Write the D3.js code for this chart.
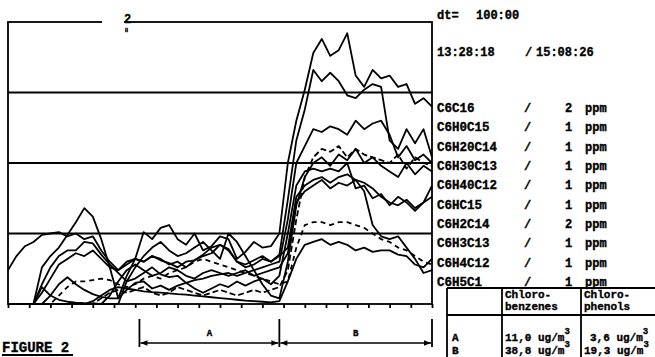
<!DOCTYPE html>
<html>
<head>
<meta charset="utf-8">
<script src="https://cdn.jsdelivr.net/npm/d3@7"></script>
<style>
  body { margin: 0; background: #fff; }
  svg { display: block; }
  text { font-family: 'Liberation Mono', 'DejaVu Sans Mono', monospace; font-weight: bold; fill: #000; stroke: #000; stroke-width: 0.35; }
</style>
</head>
<body>
<svg id="chart" width="655" height="357"></svg>
<script>
// time axis, minutes since 13:28:18
const minutes = [0,2,4,6,8,10,12,14,16,18,20,22,24,26,28,30,32,34,36,38,40,42,44,46,48,50,
  52,54,56,58,60,62,64,66,68,70,72,74,76,78,80,82,84,86,88,90,92,94,96,98,100]
const tickMinutes = [0,5,10,15,20,25,30,35,40,45,50,55,60,65,70,75,80,85,90,95,100]
const gridLevels = [25, 50, 75]

// traces, percent of full scale
const s1 = [0,0,0,0,13,17,20,24.5,29,34, 31,23,13,2,10,16,25.5,23,27,28, 23,21,25,19,20.5,24,23,16,18.5,22,
  20,20.5,25,50,65,76,89,94,88,90, 96,81,77,83,80,81,77,78,71,73, 70]
const s2 = [12,17,20.5,22,24.5,25,25.5,24,25,23, 24,19,15,12,15,16,15,17,15.5,14.5, 13,15,15.5,17.5,20,21,19.5,15,14,15.5,
  17,15,17.5,37,58,69,83,79,82,79, 74,73,76,78,77,58,55,62,57,62, 52]
const s3 = [0,0,0,0,7,13,17,19,19,22, 21.5,17.5,14,11,8,9,11,13,10.5,9.5, 10,7.5,8.5,9,10,10.5,11,10,11,12,
  13,14,15,30,50,56,62,61,63,62, 60,65,62,64,65,60,52,56,51,53, 50]
const s4 = [0,0,0,0,0,3,7,9.5,7,5, 3.5,2.5,2,2,5,7.5,8,5.5,6.5,5, 6.5,7.5,5.5,4,5.5,7,6,8,6.5,8,
  9,7,10,25,42,47,48,47,48,47, 50,41,42,37.5,39,35,38,36,33,36, 42]
const s5 = [0,0,0,0,4,9,14,16,18,17, 19,16,13,12,14,16,15,17,16,14, 15,13,15.5,17,18,21,19,15,13,14,
  16,15,17,20,38,42,44,45,43,45, 46,44,40,28,24,23,24,20,16,11, 12]
const s6 = [0,0,0,0,6,3,1.5,0.8,0.5,0.3, 0.2,0,0,0,8,13,17,20,22,19, 17,18,20,22,19,16,25,22,17,12,
  7,3,2,15,35,45,50,52,49,53, 51,55,50,52,49,47,45,50,46,49, 47]
const s7 = [0,0,0,0,0,0,3,6,8,8, 8.5,9,8.5,7,6,7,9,10,9,11, 12,13,15,16,15,14,13,12,11,10,
  9,8,7,8,20,28,29,29,28,29, 29,28,27,25,23,22,20,19,17,15, 14]
const s8 = [0,0,0,0,0,0,0,0,0,0, 1,3,5,6,5.5,5,4.5,4.2,4,3.8, 3.5,3.3,3,2.7,2.4,2.1,1.8,1.5,1.2,1,
  0.8,0.6,1,8,16,21,22,23,21,22, 21,19,20,18.5,19,19,17.5,17,14,13, 16]
const s9 = [0,0,0,0,0,0,0,0,0,0, 0,2,4,5,4,5,6,4,3,4, 6,5,4,3,4,5,4,3,4,5,
  4,5,6,12,30,45,52,55,54,56, 52,55,53,52,51,50,53,48,52,50, 49]
const s10 = [0,0,0,0,0,0,0,0,0,0, 0,0,3,8,12,14,12,10,11,13, 12,10,9,11,12,11,10,11,12,10,
  11,12,13,18,36,40,42,44,41,43, 42,44,43,41,38,36,35,37,34,36, 38]
const traces = [s1, s2, s3, s4, s5, s6, s7, s8, s9, s10]
const dashes = [null, null, null, null, null, null, '5,4', null, '6,3', null]

// legend
const compounds = ['C6C16', 'C6H0C15', 'C6H20C14', 'C6H30C13', 'C6H40C12', 'C6HC15', 'C6H2C14', 'C6H3C13', 'C6H4C12', 'C6H5C1']
const fullScale = [2, 1, 1, 1, 1, 1, 2, 1, 1, 1]

// phases
const phaseNames = ['A', 'B']
const phaseStart = [31, 64]
const phaseEnd = [64, 100]

// table
const tableCols = ['Chloro-|benzenes', 'Chloro-|phenols']
const tableRows = ['A', 'B']
const benzenes = ['11,0', '38,8']
const phenols = ['3,6', '19,3']

const svg = d3.select('#chart')
const plot = { left: 8, right: 432, top: 22, bottom: 304 }

const x = d3.scaleLinear().domain([0, 100]).range([plot.left, plot.right])
const y = d3.scaleLinear().domain([0, 100]).range([plot.bottom, plot.top])

// frame + grid
svg.append('rect')
  .attr('x', plot.left).attr('y', plot.top)
  .attr('width', plot.right - plot.left).attr('height', plot.bottom - plot.top)
  .attr('fill', 'none').attr('stroke', '#000').attr('stroke-width', 1.8)

svg.append('g')
  .selectAll('line')
  .data(gridLevels)
  .join('line')
    .attr('x1', plot.left).attr('x2', plot.right)
    .attr('y1', d => y(d)).attr('y2', d => y(d))
    .attr('stroke', '#000').attr('stroke-width', 1.8)

svg.append('g')
  .attr('transform', 'translate(0,' + plot.bottom + ')')
  .call(d3.axisBottom(x).tickValues(tickMinutes).tickSize(4).tickFormat(''))
  .call(g => g.select('.domain').remove())
  .call(g => g.selectAll('.tick line').attr('stroke-width', 1.8))

// marker on top border
svg.append('rect').attr('x', 102).attr('y', 19).attr('width', 22).attr('height', 5).attr('fill', '#fff')
svg.append('text').attr('x', 124).attr('y', 23).attr('font-size', 12).text('2')
svg.append('text').attr('x', 125).attr('y', 32).attr('font-size', 5).text('H')

// traces
const line = d3.line()
  .x((d, i) => x(minutes[i]))
  .y(d => y(d))

svg.append('g')
  .selectAll('path')
  .data(traces)
  .join('path')
    .attr('d', line)
    .attr('fill', 'none')
    .attr('stroke', '#000')
    .attr('stroke-width', 1.8)
    .attr('stroke-linejoin', 'round')
    .attr('stroke-dasharray', (d, i) => dashes[i])

// phase brackets
const br = { top: 319, arrow: 343, bottom: 347 }
svg.append('defs').append('marker')
  .attr('id', 'arr')
  .attr('viewBox', '0 0 10 10').attr('refX', 10).attr('refY', 5)
  .attr('markerWidth', 6).attr('markerHeight', 5).attr('orient', 'auto-start-reverse')
  .append('path').attr('d', 'M0,1 L10,5 L0,9 Z').attr('fill', '#000')

const phases = svg.append('g')
phases.selectAll('line.v')
  .data([phaseStart[0]].concat(phaseEnd))
  .join('line')
    .attr('class', 'v')
    .attr('x1', d => x(d)).attr('x2', d => x(d))
    .attr('y1', br.top).attr('y2', br.bottom)
    .attr('stroke', '#000').attr('stroke-width', 1.8)
phases.selectAll('line.h')
  .data(phaseNames)
  .join('line')
    .attr('class', 'h')
    .attr('x1', (d, i) => x(phaseStart[i]) + 1).attr('x2', (d, i) => x(phaseEnd[i]) - 1)
    .attr('y1', br.arrow).attr('y2', br.arrow)
    .attr('stroke', '#000').attr('stroke-width', 1.4)
    .attr('marker-start', 'url(#arr)').attr('marker-end', 'url(#arr)')
phases.selectAll('text')
  .data(phaseNames)
  .join('text')
    .attr('x', (d, i) => x((phaseStart[i] + phaseEnd[i]) / 2))
    .attr('y', 336)
    .attr('text-anchor', 'middle')
    .attr('font-size', 9)
    .text(d => d)

// figure caption
svg.append('text').attr('x', 2).attr('y', 352).attr('font-size', 14).text('FIGURE 2')
svg.append('line').attr('x1', 2).attr('x2', 73).attr('y1', 355).attr('y2', 355)
  .attr('stroke', '#000').attr('stroke-width', 1.8)

// header
const info = svg.append('g')
info.append('text').attr('x', 437).attr('y', 19).attr('font-size', 12).text('dt=')
info.append('text').attr('x', 476).attr('y', 19).attr('font-size', 12).text('100:00')
info.append('text').attr('x', 437).attr('y', 56).attr('font-size', 12).text('13:28:18')
info.append('text').attr('x', 525).attr('y', 56).attr('font-size', 12).text('/')
info.append('text').attr('x', 536).attr('y', 56).attr('font-size', 12).text('15:08:26')

// legend rows
const row = d3.scalePoint().domain(compounds).range([108, 282])
const legend = svg.append('g')
  .selectAll('g')
  .data(compounds)
  .join('g')
    .attr('transform', d => 'translate(0,' + (row(d) + 4) + ')')
legend.append('text').attr('x', 437).attr('font-size', 12.5).text(d => d)
legend.append('text').attr('x', 524).attr('font-size', 12).text('/')
legend.append('text').attr('x', 565).attr('font-size', 12).text((d, i) => fullScale[i])
legend.append('text').attr('x', 585).attr('font-size', 12).text('ppm')

// results table
const tb = { left: 447, top: 288, head: 315, bottom: 360, right: 660, cols: [502, 581] }
const table = svg.append('g').attr('stroke', '#000').attr('stroke-width', 1.8)
table.append('line').attr('x1', tb.left).attr('x2', tb.right).attr('y1', tb.top).attr('y2', tb.top)
table.append('line').attr('x1', tb.left).attr('x2', tb.right).attr('y1', tb.head).attr('y2', tb.head)
table.selectAll('line.c')
  .data([tb.left].concat(tb.cols))
  .join('line')
    .attr('class', 'c')
    .attr('x1', d => d).attr('x2', d => d)
    .attr('y1', tb.top).attr('y2', tb.bottom)

const tt = svg.append('g')
tableCols.forEach((c, j) => {
  const parts = c.split('|')
  tt.append('text').attr('x', tb.cols[j] + 3).attr('y', 298).attr('font-size', 11).text(parts[0])
  tt.append('text').attr('x', tb.cols[j] + 3).attr('y', 310).attr('font-size', 11).text(parts[1])
})
const units = (sel, xpos, vals, i) => {
  const t = sel.append('text').attr('x', xpos).attr('y', 341 + i * 13).attr('font-size', 11)
  t.append('tspan').text(vals[i] + ' ug/m')
  t.append('tspan').attr('dy', -7).attr('font-size', 9).text('3')
}
tableRows.forEach((r, i) => {
  tt.append('text').attr('x', 452).attr('y', 341 + i * 13).attr('font-size', 11).text(r)
  units(tt, tb.cols[0] + 3, benzenes, i)
  units(tt, tb.cols[1] + 3 + (phenols[i].length < 4 ? 6 : 0), phenols, i)
})
</script>
</body>
</html>
